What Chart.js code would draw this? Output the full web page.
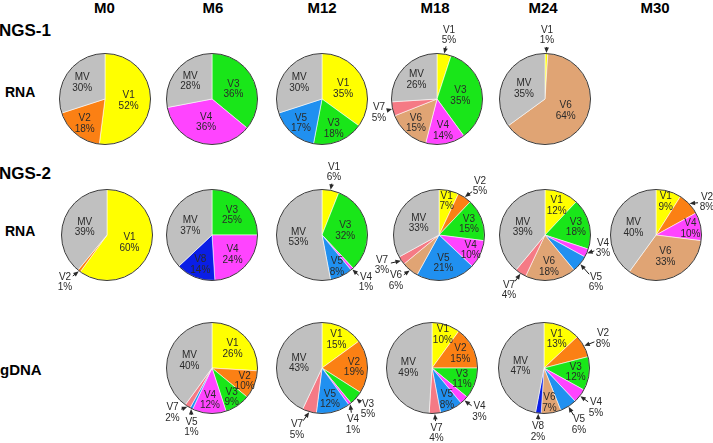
<!DOCTYPE html>
<html>
<head>
<meta charset="utf-8">
<script src="https://cdn.jsdelivr.net/npm/chart.js@4.4.0/dist/chart.umd.min.js"></script>
<style>
  html, body { margin: 0; padding: 0; background: #fff; }
  body { width: 713px; height: 443px; position: relative; overflow: hidden;
         font-family: "Liberation Sans", Arial, Helvetica, sans-serif; }
  .txt { position: absolute; font-weight: bold; color: #000; line-height: 1; white-space: nowrap; }
  .head { transform: translate(-50%, -50%); font-size: 15px; }
  .row { transform: translateY(-50%); }
  canvas.pie { position: absolute; }
</style>
</head>
<body>
<script>
(function () {
  'use strict';

  // ---- data ----
  const timepoints = ['M0', 'M6', 'M12', 'M18', 'M24', 'M30'];
  const variants = ['V1', 'V2', 'V3', 'V4', 'V5', 'V6', 'V7', 'V8', 'MV'];

  // NGS-1, RNA (percent per variant, same order as variants)
  const ngs1RnaM0  = [52, 18, 0, 0, 0, 0, 0, 0, 30];
  const ngs1RnaM6  = [0, 0, 36, 36, 0, 0, 0, 0, 28];
  const ngs1RnaM12 = [35, 0, 18, 0, 17, 0, 0, 0, 30];
  const ngs1RnaM18 = [5, 0, 35, 14, 0, 15, 5, 0, 26];
  const ngs1RnaM24 = [1, 0, 0, 0, 0, 64, 0, 0, 35];

  // NGS-2, RNA
  const ngs2RnaM0  = [60, 1, 0, 0, 0, 0, 0, 0, 39];
  const ngs2RnaM6  = [0, 0, 25, 24, 0, 0, 0, 14, 37];
  const ngs2RnaM12 = [6, 0, 32, 1, 8, 0, 0, 0, 53];
  const ngs2RnaM18 = [7, 5, 15, 10, 21, 6, 3, 0, 33];
  const ngs2RnaM24 = [12, 0, 18, 3, 6, 18, 4, 0, 39];
  const ngs2RnaM30 = [9, 8, 0, 10, 0, 33, 0, 0, 40];

  // NGS-2, gDNA
  const gdnaM6  = [26, 10, 9, 12, 1, 0, 2, 0, 40];
  const gdnaM12 = [15, 19, 5, 1, 12, 0, 5, 0, 43];
  const gdnaM18 = [10, 15, 11, 3, 8, 0, 4, 0, 49];
  const gdnaM24 = [13, 8, 12, 5, 6, 7, 0, 2, 47];

  // ---- styles / layout ----
  const variantColors = ['#ffff00', '#fb8014', '#19e619', '#ff44ff', '#2090f0',
                         '#e0a474', '#f57a85', '#0a1ee6', '#c0c0c0'];
  const pieRadius = 45.5;
  const half = 85;

  // outside labels: [variant, label dx, label dy] from pie centre
  const calloutsNgs1M18 = [['V1', 12, -64], ['V7', -58, 13.5]];
  const calloutsNgs1M24 = [['V1', 2, -64]];
  const calloutsNgs2M0  = [['V2', -42, 47]];
  const calloutsNgs2M12 = [['V1', 12, -63], ['V4', 44, 47]];
  const calloutsNgs2M18 = [['V2', 41, -49], ['V7', -57, 30], ['V6', -43, 45.5]];
  const calloutsNgs2M24 = [['V4', 58, 13], ['V5', 51, 47], ['V7', -36, 55]];
  const calloutsNgs2M30 = [['V2', 51, -33]];
  const calloutsGdnaM6  = [['V7', -39.5, 44.5], ['V5', -20.5, 59]];
  const calloutsGdnaM12 = [['V3', 46, 41], ['V4', 31, 56.5], ['V7', -25, 61.5]];
  const calloutsGdnaM18 = [['V4', 47.5, 43.5], ['V7', 4.5, 65]];
  const calloutsGdnaM24 = [['V2', 59, -29.5], ['V4', 52, 39.5], ['V5', 35, 56.5], ['V8', -6, 63.5]];

  const headerX = [104.5, 213, 322, 435, 543, 655];

  const pies = [
    [ngs1RnaM0, 105, 99, []],
    [ngs1RnaM6, 212, 99, []],
    [ngs1RnaM12, 322, 99, []],
    [ngs1RnaM18, 437, 99, calloutsNgs1M18],
    [ngs1RnaM24, 545, 99, calloutsNgs1M24],
    [ngs2RnaM0, 107, 235, calloutsNgs2M0],
    [ngs2RnaM6, 212, 235, []],
    [ngs2RnaM12, 322, 235, calloutsNgs2M12],
    [ngs2RnaM18, 439, 235, calloutsNgs2M18],
    [ngs2RnaM24, 545, 235, calloutsNgs2M24],
    [ngs2RnaM30, 656, 235, calloutsNgs2M30],
    [gdnaM6, 212, 368, calloutsGdnaM6],
    [gdnaM12, 322, 368, calloutsGdnaM12],
    [gdnaM18, 432, 368, calloutsGdnaM18],
    [gdnaM24, 544, 368, calloutsGdnaM24]
  ];

  // ---- static text ----
  function addText(text, cls, x, y, size) {
    const el = document.createElement('div');
    el.className = 'txt ' + cls;
    el.textContent = text;
    el.style.left = x + 'px';
    el.style.top = y + 'px';
    if (size) el.style.fontSize = size + 'px';
    document.body.appendChild(el);
  }

  timepoints.forEach((t, i) => addText(t, 'head', headerX[i], 7));
  addText('NGS-1', 'row', -1, 30, 17);
  addText('RNA', 'row', 5, 91.5, 14);
  addText('NGS-2', 'row', -1, 173, 17);
  addText('RNA', 'row', 5, 230.5, 14);
  addText('gDNA', 'row', 0, 369, 15);

  // ---- label plugin ----
  function insideFraction(pct) {
    if (pct <= 10) return 0.77;
    if (pct <= 20) return 0.7;
    if (pct <= 30) return 0.62;
    return 0.52;
  }

  function drawTwoLines(ctx, name, pct, x, y) {
    ctx.fillText(name, x, y - 5);
    ctx.fillText(pct + '%', x, y + 5.5);
  }

  function drawArrow(ctx, tipX, tipY, fromX, fromY) {
    const ang = Math.atan2(tipY - fromY, tipX - fromX);
    const c = Math.cos(ang), s = Math.sin(ang);
    ctx.beginPath();
    ctx.moveTo(fromX, fromY);
    ctx.lineTo(tipX - c * 4, tipY - s * 4);
    ctx.stroke();
    ctx.beginPath();
    ctx.moveTo(tipX, tipY);
    ctx.lineTo(tipX - c * 5.5 + s * 2.3, tipY - s * 5.5 - c * 2.3);
    ctx.lineTo(tipX - c * 5.5 - s * 2.3, tipY - s * 5.5 + c * 2.3);
    ctx.closePath();
    ctx.fill();
  }

  const pieLabels = {
    id: 'pieLabels',
    afterDatasetsDraw(chart, args, opts) {
      const ctx = chart.ctx;
      const meta = chart.getDatasetMeta(0);
      const arcs = meta.data;
      if (!arcs.length) return;
      const cx = arcs[0].x, cy = arcs[0].y, r = arcs[0].outerRadius;
      const values = chart.data.datasets[0].data;
      const names = chart.data.labels;
      const outside = {};
      (opts.callouts || []).forEach((c) => { outside[c[0]] = c; });

      ctx.save();
      // outline of the whole pie
      ctx.beginPath();
      ctx.arc(cx, cy, r, 0, Math.PI * 2);
      ctx.lineWidth = 1;
      ctx.strokeStyle = '#3a3a3a';
      ctx.stroke();

      ctx.font = '10px "Liberation Sans", Arial, sans-serif';
      ctx.textAlign = 'center';
      ctx.textBaseline = 'middle';
      ctx.fillStyle = '#2a2a2a';
      ctx.strokeStyle = '#1a1a1a';
      ctx.lineWidth = 1;

      arcs.forEach((arc, i) => {
        const mid = (arc.startAngle + arc.endAngle) / 2;
        const name = names[i];
        const pct = values[i];
        const call = outside[name];
        if (call) {
          const lx = cx + call[1], ly = cy + call[2];
          const tipX = cx + Math.cos(mid) * (r + 0.5);
          const tipY = cy + Math.sin(mid) * (r + 0.5);
          const dx = lx - tipX, dy = ly - tipY;
          const d = Math.hypot(dx, dy);
          const ux = dx / d, uy = dy / d;
          const clear = 1 / Math.sqrt((ux / 8) * (ux / 8) + (uy / 11) * (uy / 11));
          const len = Math.max(5, d - clear - 1);
          drawArrow(ctx, tipX, tipY, tipX + ux * len, tipY + uy * len);
          drawTwoLines(ctx, name, pct, lx, ly);
        } else {
          const f = insideFraction(pct) * r;
          drawTwoLines(ctx, name, pct, cx + Math.cos(mid) * f, cy + Math.sin(mid) * f);
        }
      });
      ctx.restore();
    }
  };

  // ---- pies ----
  function initPie(values, cx, cy, callouts) {
    const labels = [], data = [], colors = [];
    values.forEach((v, i) => {
      if (v > 0) {
        labels.push(variants[i]);
        data.push(v);
        colors.push(variantColors[i]);
      }
    });

    const canvas = document.createElement('canvas');
    canvas.className = 'pie';
    canvas.width = half * 2;
    canvas.height = half * 2;
    canvas.style.left = Math.round(cx - half) + 'px';
    canvas.style.top = Math.round(cy - half) + 'px';
    document.body.appendChild(canvas);

    return new Chart(canvas.getContext('2d'), {
      type: 'pie',
      data: {
        labels,
        datasets: [{
          data,
          backgroundColor: colors,
          borderColor: 'rgba(255,255,255,0.7)',
          borderWidth: 0.8
        }]
      },
      options: {
        responsive: false,
        animation: false,
        devicePixelRatio: 1,
        radius: pieRadius,
        layout: { padding: 0 },
        plugins: {
          legend: { display: false },
          tooltip: { enabled: false },
          pieLabels: { callouts }
        }
      },
      plugins: [pieLabels]
    });
  }

  pies.forEach((p) => initPie(p[0], p[1], p[2], p[3]));
})();
</script>
</body>
</html>
